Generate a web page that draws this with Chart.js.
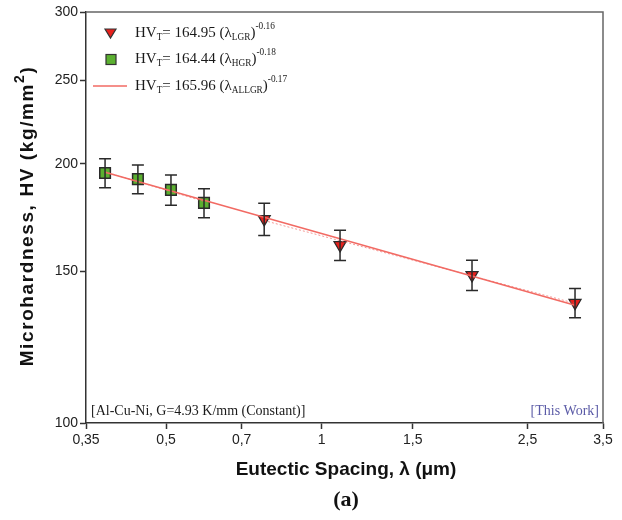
<!DOCTYPE html>
<html lang="en">
<head>
    <meta charset="UTF-8">
    <title>Microhardness vs Eutectic Spacing</title>
    <script src="https://cdn.jsdelivr.net/npm/chart.js"></script>
    <style>
        html, body {
            margin: 0;
            padding: 0;
            background-color: white;
        }
        .chart-container {
            position: relative;
            width: 622px;
            height: 520px;
        }
    </style>
</head>
<body>
    <div class="chart-container">
        <canvas id="hvChart" width="622" height="520"></canvas>
    </div>

    <script>
        // High growth rate samples (squares)
        const hgrSpacing = [0.381, 0.441, 0.511, 0.592];
        const hgrHardness = [195.1, 191.9, 186.5, 180.1];
        const hgrError = [7.5, 7.4, 7.5, 7.0];

        // Low growth rate samples (triangles)
        const lgrSpacing = [0.774, 1.085, 1.953, 3.09];
        const lgrHardness = [172.5, 160.9, 148.5, 137.9];
        const lgrError = [7.4, 6.5, 6.0, 5.4];

        // Regression lines, end points only (straight on log-log axes)
        const fitAllX = [0.381, 3.09];
        const fitAllY = [195.5, 137.0];
        const fitHgrX = [0.381, 0.592];
        const fitHgrY = [195.7, 180.8];
        const fitLgrX = [0.774, 3.09];
        const fitLgrY = [171.8, 137.7];

        const xTicks = [0.35, 0.5, 0.7, 1, 1.5, 2.5, 3.5];
        const yTicks = [100, 150, 200, 250, 300];

        const toPoints = (xs, ys) => xs.map((x, i) => ({ x: x, y: ys[i] }));

        // draw text runs with normal / subscript / superscript parts
        function drawRich(ctx, x, y, parts, size) {
            ctx.textBaseline = 'middle';
            ctx.textAlign = 'left';
            parts.forEach(([text, kind]) => {
                let fs = size, dy = 0;
                if (kind === 'sub') { fs = size * 0.62; dy = size * 0.32; }
                if (kind === 'sup') { fs = size * 0.62; dy = -size * 0.45; }
                ctx.font = fs + 'px "Liberation Serif", "Times New Roman", serif';
                ctx.fillText(text, x, y + dy);
                x += ctx.measureText(text).width;
            });
        }

        const decorations = {
            id: 'decorations',
            afterDatasetsDraw(chart) {
                const ctx = chart.ctx;
                const xs = chart.scales.x;
                const ys = chart.scales.y;

                // error bars
                ctx.save();
                ctx.strokeStyle = '#2a2a2a';
                ctx.lineWidth = 1.5;
                const bars = (sx, sy, se) => sx.forEach((v, i) => {
                    const px = xs.getPixelForValue(v);
                    const top = ys.getPixelForValue(sy[i] + se[i]);
                    const bot = ys.getPixelForValue(sy[i] - se[i]);
                    ctx.beginPath();
                    ctx.moveTo(px, top); ctx.lineTo(px, bot);
                    ctx.moveTo(px - 6, top); ctx.lineTo(px + 6, top);
                    ctx.moveTo(px - 6, bot); ctx.lineTo(px + 6, bot);
                    ctx.stroke();
                });
                bars(hgrSpacing, hgrHardness, hgrError);
                bars(lgrSpacing, lgrHardness, lgrError);
                ctx.restore();
            },
            afterDraw(chart) {
                const ctx = chart.ctx;
                const area = chart.chartArea;
                ctx.save();

                // top and right frame
                ctx.strokeStyle = '#666';
                ctx.lineWidth = 1.5;
                ctx.beginPath();
                ctx.moveTo(area.left, area.top);
                ctx.lineTo(area.right, area.top);
                ctx.lineTo(area.right, area.bottom);
                ctx.stroke();

                // legend
                ctx.fillStyle = '#1a1a1a';
                const legendRows = [
                    ['164.95', 'LGR', '-0.16'],
                    ['164.44', 'HGR', '-0.18'],
                    ['165.96', 'ALLGR', '-0.17']
                ];
                const rowY = [33, 59, 86];
                legendRows.forEach((r, i) => {
                    drawRich(ctx, 135, rowY[i], [
                        ['HV', 'n'], ['T', 'sub'], ['= ' + r[0] + ' (\u03bb', 'n'],
                        [r[1], 'sub'], [')', 'n'], [r[2], 'sup']
                    ], 15);
                });

                // legend symbols
                ctx.lineWidth = 1.2;
                ctx.strokeStyle = '#333';
                ctx.fillStyle = '#e8201c';
                ctx.beginPath();
                ctx.moveTo(105, 29); ctx.lineTo(116, 29); ctx.lineTo(110.5, 38);
                ctx.closePath();
                ctx.fill(); ctx.stroke();
                ctx.fillStyle = '#5bb030';
                ctx.fillRect(106, 54.5, 10, 10);
                ctx.strokeRect(106, 54.5, 10, 10);
                ctx.strokeStyle = '#f26a63';
                ctx.lineWidth = 1.5;
                ctx.beginPath();
                ctx.moveTo(93, 86); ctx.lineTo(127, 86);
                ctx.stroke();

                // notes inside the plot
                ctx.font = '14px "Liberation Serif", "Times New Roman", serif';
                ctx.textBaseline = 'middle';
                ctx.textAlign = 'left';
                ctx.fillStyle = '#1a1a1a';
                ctx.fillText('[Al-Cu-Ni, G=4.93 K/mm (Constant)]', 91, 411);
                ctx.textAlign = 'right';
                ctx.fillStyle = '#5a5aa6';
                ctx.fillText('[This Work]', 599, 411);

                // x axis title and panel letter
                ctx.fillStyle = '#111';
                ctx.textAlign = 'center';
                ctx.font = 'bold 19px "Liberation Sans", Arial, sans-serif';
                ctx.fillText('Eutectic Spacing, \u03bb (\u03bcm)', 346, 470);
                ctx.font = 'bold 22px "Liberation Serif", "Times New Roman", serif';
                ctx.fillText('(a)', 346, 500);

                // y axis title with raised exponent
                ctx.save();
                ctx.translate(28, 216);
                ctx.rotate(-Math.PI / 2);
                ctx.textAlign = 'left';
                ctx.textBaseline = 'middle';
                ctx.letterSpacing = '1.6px';
                const mainFont = 'bold 19px "Liberation Sans", Arial, sans-serif';
                const supFont = 'bold 14px "Liberation Sans", Arial, sans-serif';
                const runs = [
                    ['Microhardness, HV (kg/mm', mainFont, 0],
                    ['2', supFont, -8],
                    [')', mainFont, 0]
                ];
                let total = 0;
                runs.forEach(([t, f]) => { ctx.font = f; total += ctx.measureText(t).width; });
                let cx = -total / 2;
                runs.forEach(([t, f, dy]) => {
                    ctx.font = f;
                    ctx.fillText(t, cx, dy);
                    cx += ctx.measureText(t).width;
                });
                ctx.restore();

                ctx.restore();
            }
        };

        const tickFont = { family: '"Liberation Sans", Arial, sans-serif', size: 14 };

        new Chart(document.getElementById('hvChart'), {
            type: 'scatter',
            data: {
                datasets: [
                    {
                        data: toPoints(fitHgrX, fitHgrY),
                        showLine: true,
                        borderColor: 'rgba(240, 110, 105, 0.7)',
                        borderWidth: 1,
                        borderDash: [2, 2],
                        pointRadius: 0
                    },
                    {
                        data: toPoints(fitLgrX, fitLgrY),
                        showLine: true,
                        borderColor: 'rgba(240, 110, 105, 0.7)',
                        borderWidth: 1,
                        borderDash: [2, 2],
                        pointRadius: 0
                    },
                    {
                        data: toPoints(fitAllX, fitAllY),
                        showLine: true,
                        borderColor: '#f26a63',
                        borderWidth: 1.5,
                        pointRadius: 0
                    },
                    {
                        data: toPoints(hgrSpacing, hgrHardness),
                        pointStyle: 'rect',
                        pointRadius: 7.5,
                        backgroundColor: '#5bb030',
                        borderColor: '#2a2a2a',
                        borderWidth: 1.5
                    },
                    {
                        data: toPoints(lgrSpacing, lgrHardness),
                        pointStyle: 'triangle',
                        rotation: 180,
                        pointRadius: 7,
                        backgroundColor: '#e8201c',
                        borderColor: '#2a2a2a',
                        borderWidth: 1.2
                    }
                ]
            },
            options: {
                responsive: false,
                animation: false,
                events: [],
                layout: { padding: { top: 12, right: 19, left: 0, bottom: 0 } },
                plugins: {
                    legend: { display: false },
                    tooltip: { enabled: false }
                },
                scales: {
                    x: {
                        type: 'logarithmic',
                        min: 0.35,
                        max: 3.5,
                        afterBuildTicks: s => { s.ticks = xTicks.map(v => ({ value: v })); },
                        afterFit: s => { s.height = 97; },
                        ticks: {
                            autoSkip: false,
                            maxRotation: 0,
                            color: '#222',
                            font: tickFont,
                            padding: 3,
                            callback: v => String(v).replace('.', ',')
                        },
                        grid: {
                            drawOnChartArea: false,
                            color: '#333',
                            tickLength: 6,
                            tickWidth: 1.5
                        },
                        border: { color: '#333', width: 1.5 }
                    },
                    y: {
                        type: 'logarithmic',
                        min: 100,
                        max: 300,
                        afterBuildTicks: s => { s.ticks = yTicks.map(v => ({ value: v })); },
                        afterFit: s => { s.width = 86; },
                        ticks: {
                            color: '#222',
                            font: tickFont,
                            padding: 2,
                            callback: v => String(v)
                        },
                        grid: {
                            drawOnChartArea: false,
                            color: '#333',
                            tickLength: 6,
                            tickWidth: 1.5
                        },
                        border: { color: '#333', width: 1.5 }
                    }
                }
            },
            plugins: [decorations]
        });
    </script>
</body>
</html>
